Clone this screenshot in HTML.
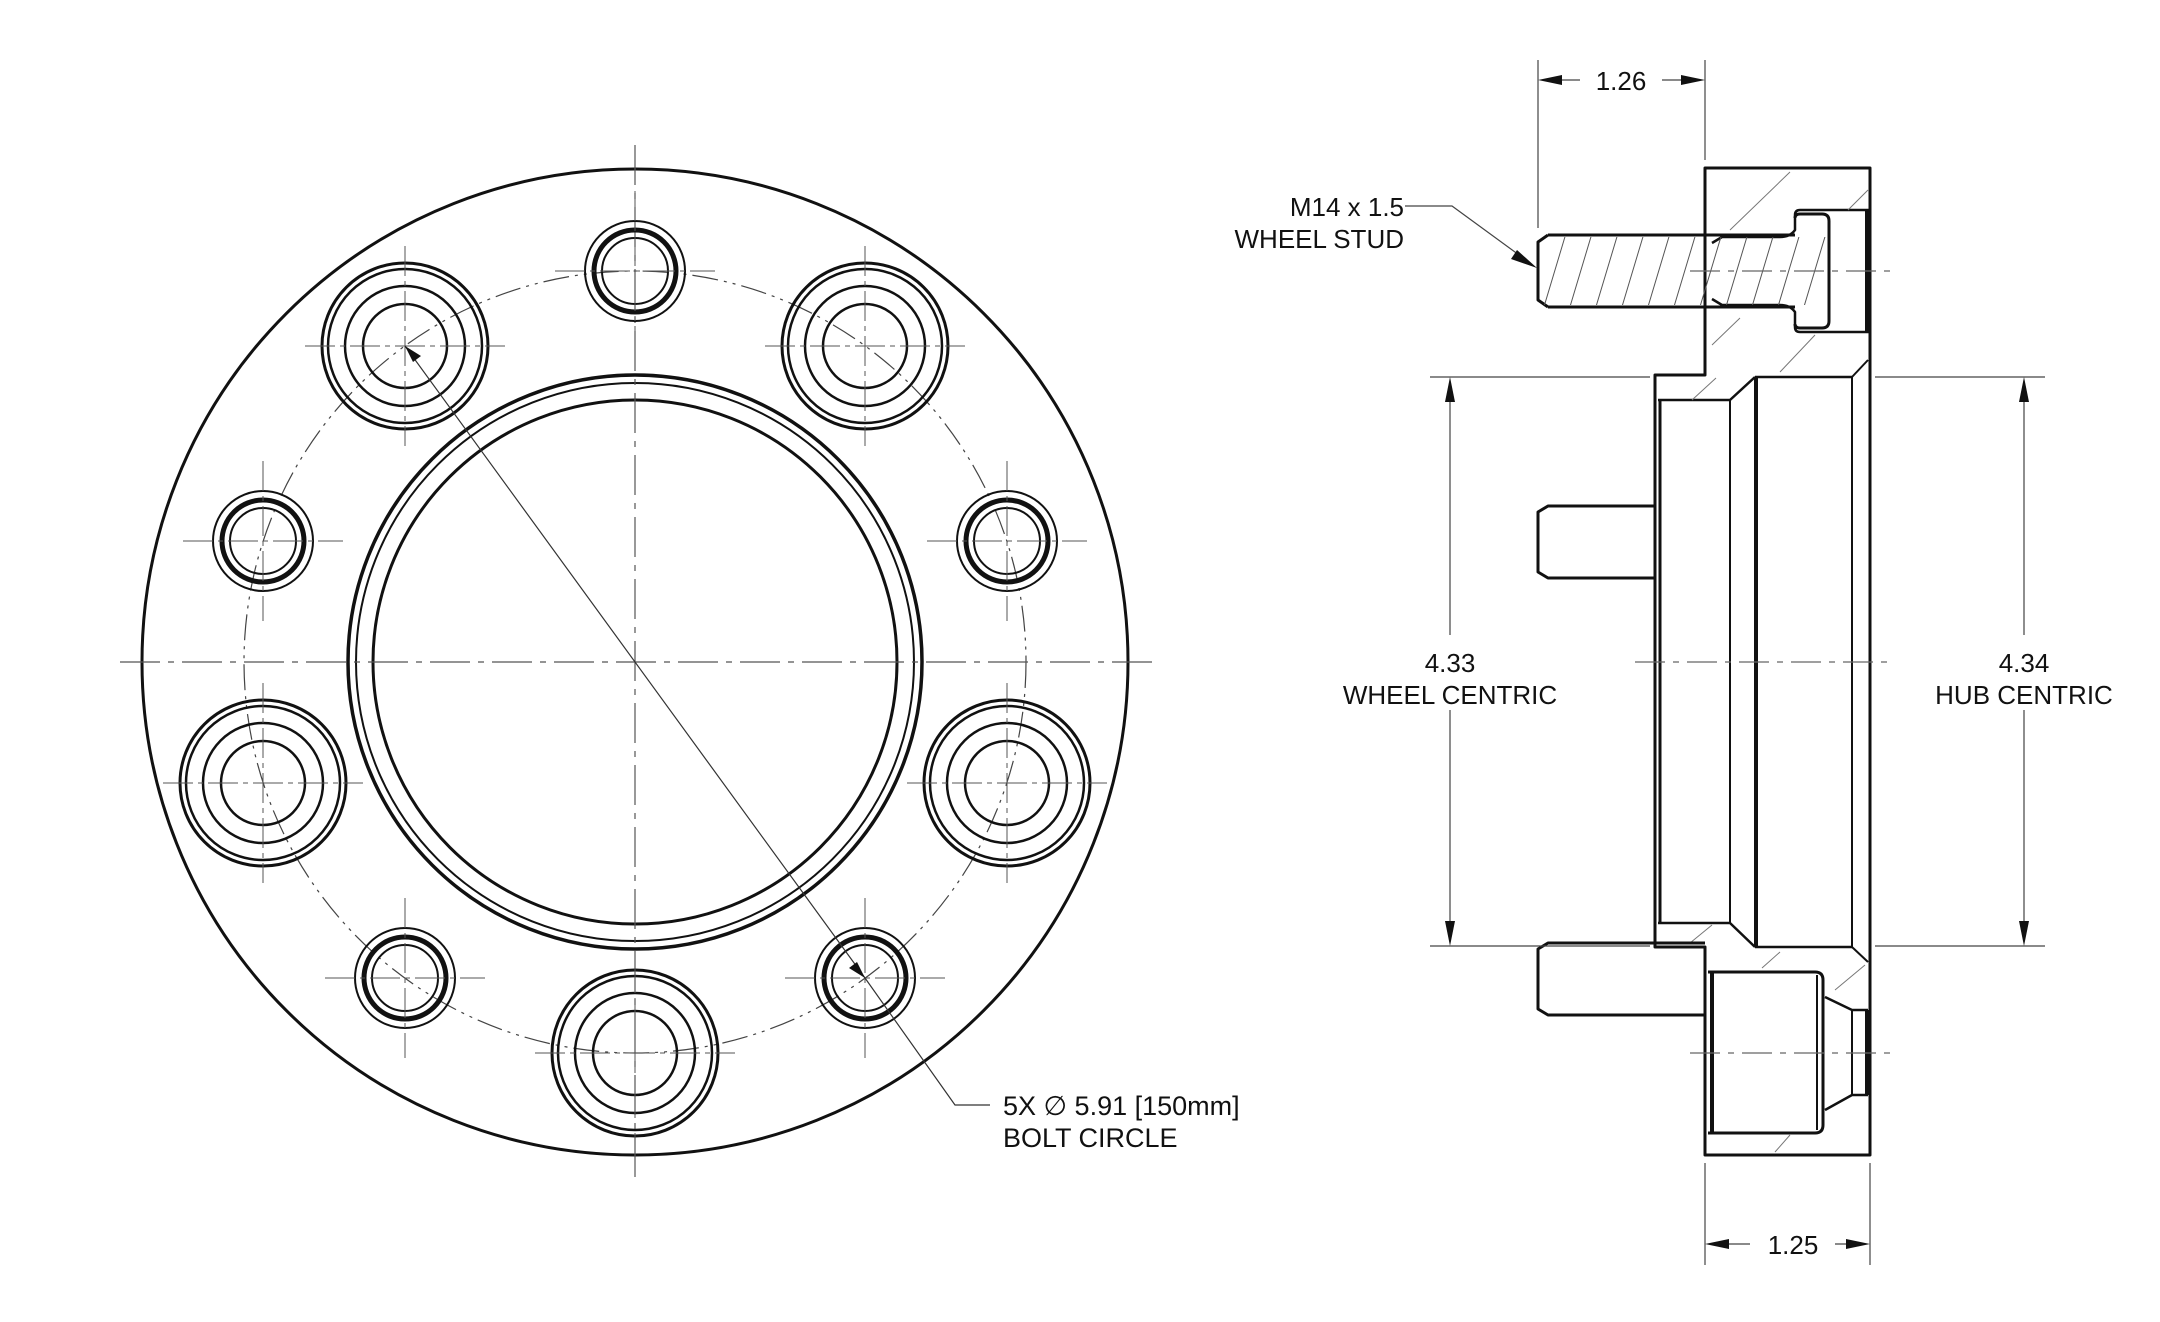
<!DOCTYPE html>
<html><head><meta charset="utf-8"><style>
html,body{margin:0;padding:0;background:#fff;}
svg{display:block;}
text{font-family:"Liberation Sans","DejaVu Sans",sans-serif;fill:#111;}
</style></head><body>
<svg width="2160" height="1322" viewBox="0 0 2160 1322" xmlns="http://www.w3.org/2000/svg">
<defs>
<clipPath id="studclip"><rect x="1540" y="237" width="290" height="68"/></clipPath>
</defs>
<g fill="none" stroke="#111">
<!-- LEFT VIEW -->
<circle cx="635" cy="662" r="493" stroke-width="3"/>
<circle cx="635" cy="662" r="287" stroke-width="3.5"/>
<circle cx="635" cy="662" r="279" stroke-width="2"/>
<circle cx="635" cy="662" r="262" stroke-width="3"/>
<circle cx="635" cy="662" r="391" stroke-width="1.2" stroke-dasharray="26 6 3 6 3 6" stroke="#444"/>
<line x1="120" y1="662" x2="1152" y2="662" stroke-width="1.2" stroke-dasharray="40 8 6 8" stroke="#555"/>
<line x1="635" y1="145" x2="635" y2="1180" stroke-width="1.2" stroke-dasharray="40 8 6 8" stroke="#555"/>
<!-- large holes -->
<g id="lg" stroke-width="2.5">
</g>
</g>
<g fill="none" stroke="#111">
<!-- large holes at angles 54,126,-18,-162,-90 ; center (635,662), r=391 -->
<g transform="translate(865,346)"><circle r="83" stroke-width="3"/><circle r="77" stroke-width="2.5"/><circle r="60" stroke-width="2.5"/><circle r="42" stroke-width="2.5"/><path d="M-100 0H100M0 -100V100" stroke-width="1" stroke-dasharray="30 5 5 5" stroke="#555"/></g>
<g transform="translate(405,346)"><circle r="83" stroke-width="3"/><circle r="77" stroke-width="2.5"/><circle r="60" stroke-width="2.5"/><circle r="42" stroke-width="2.5"/><path d="M-100 0H100M0 -100V100" stroke-width="1" stroke-dasharray="30 5 5 5" stroke="#555"/></g>
<g transform="translate(1007,783)"><circle r="83" stroke-width="3"/><circle r="77" stroke-width="2.5"/><circle r="60" stroke-width="2.5"/><circle r="42" stroke-width="2.5"/><path d="M-100 0H100M0 -100V100" stroke-width="1" stroke-dasharray="30 5 5 5" stroke="#555"/></g>
<g transform="translate(263,783)"><circle r="83" stroke-width="3"/><circle r="77" stroke-width="2.5"/><circle r="60" stroke-width="2.5"/><circle r="42" stroke-width="2.5"/><path d="M-100 0H100M0 -100V100" stroke-width="1" stroke-dasharray="30 5 5 5" stroke="#555"/></g>
<g transform="translate(635,1053)"><circle r="83" stroke-width="3"/><circle r="77" stroke-width="2.5"/><circle r="60" stroke-width="2.5"/><circle r="42" stroke-width="2.5"/><path d="M-100 0H100M0 -100V100" stroke-width="1" stroke-dasharray="30 5 5 5" stroke="#555"/></g>
<!-- small holes at 90,18,162,-54,-126 -->
<g transform="translate(635,271)"><circle r="50" stroke-width="2"/><circle r="41" stroke-width="5"/><circle r="33" stroke-width="2"/><path d="M-80 0H80M0 -80V80" stroke-width="1" stroke-dasharray="30 5 5 5" stroke="#555"/></g>
<g transform="translate(1007,541)"><circle r="50" stroke-width="2"/><circle r="41" stroke-width="5"/><circle r="33" stroke-width="2"/><path d="M-80 0H80M0 -80V80" stroke-width="1" stroke-dasharray="30 5 5 5" stroke="#555"/></g>
<g transform="translate(263,541)"><circle r="50" stroke-width="2"/><circle r="41" stroke-width="5"/><circle r="33" stroke-width="2"/><path d="M-80 0H80M0 -80V80" stroke-width="1" stroke-dasharray="30 5 5 5" stroke="#555"/></g>
<g transform="translate(865,978)"><circle r="50" stroke-width="2"/><circle r="41" stroke-width="5"/><circle r="33" stroke-width="2"/><path d="M-80 0H80M0 -80V80" stroke-width="1" stroke-dasharray="30 5 5 5" stroke="#555"/></g>
<g transform="translate(405,978)"><circle r="50" stroke-width="2"/><circle r="41" stroke-width="5"/><circle r="33" stroke-width="2"/><path d="M-80 0H80M0 -80V80" stroke-width="1" stroke-dasharray="30 5 5 5" stroke="#555"/></g>
<!-- bolt circle leader -->
<polyline points="405,346 865,978 955,1105 990,1105" stroke-width="1.2" stroke="#333"/>
</g>
<polygon points="405,346 421,356 413,362" fill="#111"/>
<polygon points="865,978 849,968 857,962" fill="#111"/>
<text x="1003" y="1115" font-size="27">5X ∅ 5.91 [150mm]</text>
<text x="1003" y="1147" font-size="27">BOLT CIRCLE</text>

<!-- RIGHT VIEW -->
<g fill="none" stroke="#111" stroke-width="3" stroke-linejoin="round">
<!-- outer outline -->
<path d="M1705,168 H1870 V1155 H1705 V947 H1655 V375 H1705 Z"/>
<!-- hub inner bore -->
<path d="M1658,400 H1730 L1755,377" stroke-width="2.5"/>
<path d="M1658,923 H1730 L1755,947" stroke-width="2.5"/>
<line x1="1660" y1="400" x2="1660" y2="923" stroke-width="3"/>
<line x1="1730" y1="400" x2="1730" y2="923" stroke-width="2"/>
<line x1="1756" y1="377" x2="1756" y2="947" stroke-width="4"/>
<line x1="1755" y1="377" x2="1852" y2="377" stroke-width="2.5"/>
<line x1="1755" y1="947" x2="1852" y2="947" stroke-width="2.5"/>
<line x1="1852" y1="377" x2="1852" y2="947" stroke-width="2"/>
<path d="M1852,377 L1868,360" stroke-width="2"/>
<path d="M1852,947 L1868,962" stroke-width="2"/>
<line x1="1867" y1="210" x2="1867" y2="332" stroke-width="4"/>
<line x1="1867" y1="1010" x2="1867" y2="1095" stroke-width="4"/>
<!-- top counterbore -->
<path d="M1870,210 H1800 Q1795,210 1795,215 V230 Q1790,237 1780,237 H1722 L1712,243" stroke-width="2.5"/>
<path d="M1870,332 H1800 Q1795,332 1795,327 V312 Q1790,305 1780,305 H1722 L1712,299" stroke-width="2.5"/>
<!-- stud top -->
<path d="M1548,235 H1795 M1548,307 H1795 M1548,235 L1538,242 V300 L1548,307" stroke-width="3"/>
<path d="M1795,218 Q1795,214 1800,214 H1822 Q1829,214 1829,221 V321 Q1829,328 1822,328 H1800 Q1795,328 1795,324" stroke-width="3"/>
<g clip-path="url(#studclip)" stroke-width="1" stroke="#555">
<path d="M1540,320 L1570,220 M1566,320 L1596,220 M1592,320 L1622,220 M1618,320 L1648,220 M1644,320 L1674,220 M1670,320 L1700,220 M1696,320 L1726,220 M1722,320 L1752,220 M1748,320 L1778,220 M1774,320 L1804,220 M1800,320 L1830,220"/>
</g>
<!-- flange hatch marks -->
<g stroke-width="1" stroke="#777">
<path d="M1730,230 L1790,172 M1848,210 L1868,190 M1712,345 L1740,318 M1780,372 L1815,335 M1692,400 L1716,378 M1690,943 L1712,925 M1762,968 L1780,952 M1835,990 L1865,965 M1775,1152 L1790,1135"/>
</g>
<!-- bottom counterbore -->
<path d="M1708,972 H1815 Q1823,972 1823,980 V1125 Q1823,1133 1815,1133 H1708" stroke-width="3"/>
<line x1="1712" y1="972" x2="1712" y2="1133" stroke-width="4"/>
<line x1="1817" y1="975" x2="1817" y2="1130" stroke-width="2"/>
<path d="M1825,997 L1852,1010 H1868 M1825,1110 L1852,1095 H1868" stroke-width="2.5"/>
<line x1="1852" y1="1010" x2="1852" y2="1095" stroke-width="2"/>
<!-- studs -->
<path d="M1654,506 H1548 L1538,512 V572 L1548,578 H1654" stroke-width="3"/>
<path d="M1705,943 H1548 L1538,949 V1009 L1548,1015 H1705" stroke-width="3"/>
</g>
<!-- centerlines right -->
<g stroke="#666" stroke-width="1.2" stroke-dasharray="30 8 6 8" fill="none">
<line x1="1635" y1="662" x2="1890" y2="662"/>
<line x1="1690" y1="271" x2="1890" y2="271"/>
<line x1="1690" y1="1053" x2="1890" y2="1053"/>
</g>
<!-- dimensions -->
<g stroke="#444" stroke-width="1.2" fill="none">
<line x1="1538" y1="60" x2="1538" y2="228"/>
<line x1="1705" y1="60" x2="1705" y2="160"/>
<line x1="1555" y1="80" x2="1580" y2="80"/><line x1="1662" y1="80" x2="1690" y2="80"/>
<line x1="1705" y1="1163" x2="1705" y2="1265"/>
<line x1="1870" y1="1163" x2="1870" y2="1265"/>
<line x1="1720" y1="1244" x2="1750" y2="1244"/><line x1="1835" y1="1244" x2="1855" y2="1244"/>
<line x1="1430" y1="377" x2="1650" y2="377"/>
<line x1="1430" y1="946" x2="1650" y2="946"/>
<line x1="1450" y1="395" x2="1450" y2="635"/>
<line x1="1450" y1="710" x2="1450" y2="930"/>
<line x1="1875" y1="377" x2="2045" y2="377"/>
<line x1="1875" y1="946" x2="2045" y2="946"/>
<line x1="2024" y1="395" x2="2024" y2="635"/>
<line x1="2024" y1="710" x2="2024" y2="930"/>
<polyline points="1405,206 1452,206 1530,263"/>
</g>
<g fill="#111">
<polygon points="1538,80 1562,75 1562,85"/>
<polygon points="1705,80 1681,75 1681,85"/>
<polygon points="1705,1244 1729,1239 1729,1249"/>
<polygon points="1870,1244 1846,1239 1846,1249"/>
<polygon points="1450,377 1445,402 1455,402"/>
<polygon points="1450,946 1445,921 1455,921"/>
<polygon points="2024,377 2019,402 2029,402"/>
<polygon points="2024,946 2019,921 2029,921"/>
<polygon points="1537,268 1517,250 1511,259"/>
</g>
<g font-size="26">
<text x="1621" y="90" text-anchor="middle">1.26</text>
<text x="1793" y="1254" text-anchor="middle">1.25</text>
<text x="1404" y="216" text-anchor="end">M14 x 1.5</text>
<text x="1404" y="248" text-anchor="end">WHEEL STUD</text>
<text x="1450" y="672" text-anchor="middle">4.33</text>
<text x="1450" y="704" text-anchor="middle">WHEEL CENTRIC</text>
<text x="2024" y="672" text-anchor="middle">4.34</text>
<text x="2024" y="704" text-anchor="middle">HUB CENTRIC</text>
</g>
</svg>
</body></html>
